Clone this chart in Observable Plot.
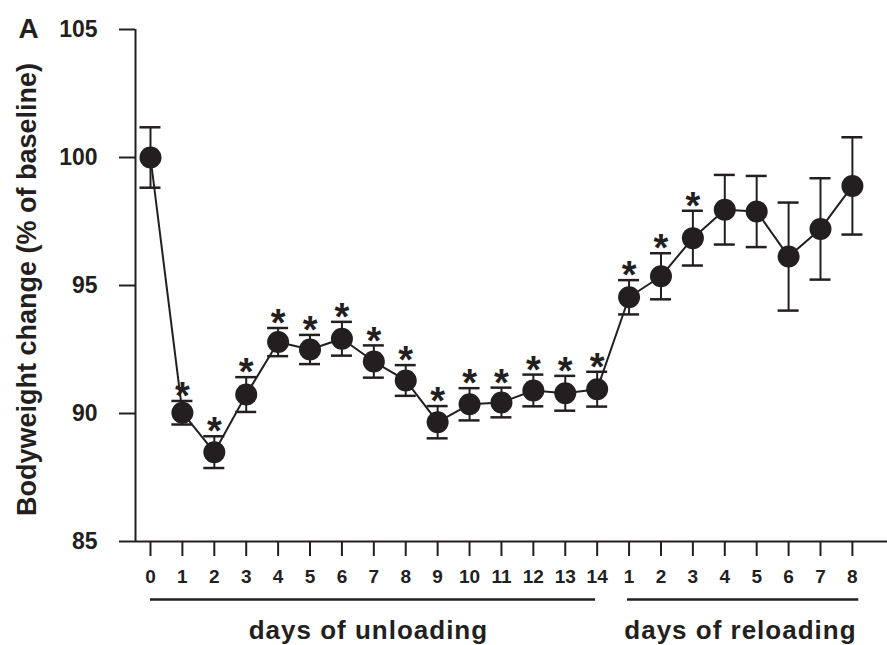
<!DOCTYPE html>
<html>
<head>
<meta charset="utf-8">
<script src="https://cdn.jsdelivr.net/npm/d3@7"></script>
<script src="https://cdn.jsdelivr.net/npm/@observablehq/plot@0.6"></script>
<style>
  html, body { margin: 0; padding: 0; background: #ffffff; }
  #chart { width: 887px; height: 645px; }
  .phase text { letter-spacing: 1px; }
</style>
</head>
<body>
<div id="chart"></div>
<script>
// ---- data ----
const dayIndex = [0,1,2,3,4,5,6,7,8,9,10,11,12,13,14,15,16,17,18,19,20,21,22];
const dayLabels = ["0","1","2","3","4","5","6","7","8","9","10","11","12","13","14",
                   "1","2","3","4","5","6","7","8"];
const bodyweight = [100.0, 90.03, 88.49, 90.74, 92.79, 92.50, 92.92, 92.03, 91.29, 89.66,
                    90.36, 90.43, 90.90, 90.79, 90.95, 94.54, 95.36, 96.85, 97.96, 97.89,
                    96.13, 97.21, 98.89];
const sem = [1.18, 0.46, 0.62, 0.68, 0.55, 0.57, 0.66, 0.63, 0.60, 0.63,
             0.63, 0.58, 0.62, 0.68, 0.68, 0.67, 0.90, 1.07, 1.36, 1.39,
             2.11, 1.98, 1.90];
const significant = [false, true, true, true, true, true, true, true, true, true,
                     true, true, true, true, true, true, true, true, false, false,
                     false, false, false];
const yTicks = [85, 90, 95, 100, 105];
const phaseLabels = ["days of unloading", "days of reloading"];
const phaseStart = [0, 14.95];
const phaseEnd = [13.95, 22.2];
const phaseCenter = [6.83, 18.49];
const yTitle = "Bodyweight change (% of baseline)";
const panelLetter = "A";

// ---- build table ----
const rows = dayIndex.map((d, i) => ({
  x: d, label: dayLabels[i], mean: bodyweight[i], sem: sem[i],
  lo: bodyweight[i] - sem[i], hi: bodyweight[i] + sem[i], sig: significant[i]
}));
const phases = phaseLabels.map((l, i) => ({label: l, from: phaseStart[i], to: phaseEnd[i], mid: phaseCenter[i]}));

const ink = "#231f20";
const xDomain = [-0.47, 23.1];
const yDomain = [85, 105];

const chart = Plot.plot({
  width: 887,
  height: 645,
  marginLeft: 135,
  marginRight: 0,
  marginTop: 29,
  marginBottom: 104,
  x: {domain: xDomain},
  y: {domain: yDomain},
  style: {fontFamily: "'Liberation Sans', Arial, Helvetica, sans-serif", fontWeight: "bold", color: ink, background: "#ffffff"},
  marks: [
    // axes
    Plot.axisY({ticks: yTicks, tickSize: 16, tickPadding: 22, fontSize: 23, label: null, strokeWidth: 2, stroke: ink, fill: ink}),
    Plot.axisX({ticks: dayIndex, tickFormat: i => dayLabels[i], tickSize: 15, tickPadding: 13, fontSize: 19, label: null, strokeWidth: 2, stroke: ink, fill: ink}),
    Plot.ruleX([xDomain[0]], {y1: yDomain[0], y2: yDomain[1], stroke: ink, strokeWidth: 2}),
    Plot.ruleY([yDomain[0]], {stroke: ink, strokeWidth: 2}),
    // phase underlines and labels
    Plot.ruleY(phases, {x1: "from", x2: "to", y: () => yDomain[0], dy: 58, stroke: ink, strokeWidth: 2.5}),
    Plot.text(phases, {x: "mid", y: () => yDomain[0], dy: 89, text: "label", fontSize: 26, fill: ink, className: "phase"}),
    // y title and panel letter
    Plot.text([yTitle], {frameAnchor: "left", textAnchor: "middle", rotate: -90, dx: -108, dy: 4, fontSize: 27, fill: ink}),
    Plot.text([panelLetter], {frameAnchor: "top-left", textAnchor: "start", lineAnchor: "middle", dx: -117, fontSize: 28, fill: ink}),
    // data
    Plot.ruleX(rows, {x: "x", y1: "lo", y2: "hi", stroke: ink, strokeWidth: 2}),
    Plot.ruleY(rows, {x1: "x", x2: "x", y: "hi", insetLeft: -10.5, insetRight: -10.5, stroke: ink, strokeWidth: 2.5}),
    Plot.ruleY(rows, {x1: "x", x2: "x", y: "lo", insetLeft: -10.5, insetRight: -10.5, stroke: ink, strokeWidth: 2.5}),
    Plot.line(rows, {x: "x", y: "mean", stroke: ink, strokeWidth: 2}),
    Plot.dot(rows, {x: "x", y: "mean", r: 11, fill: ink, stroke: "none"}),
    Plot.text(rows.filter(d => d.sig), {x: "x", y: "hi", text: () => "*", dy: -4, fontSize: 38, fill: ink})
  ]
});
document.getElementById("chart").appendChild(chart);
</script>
</body>
</html>
